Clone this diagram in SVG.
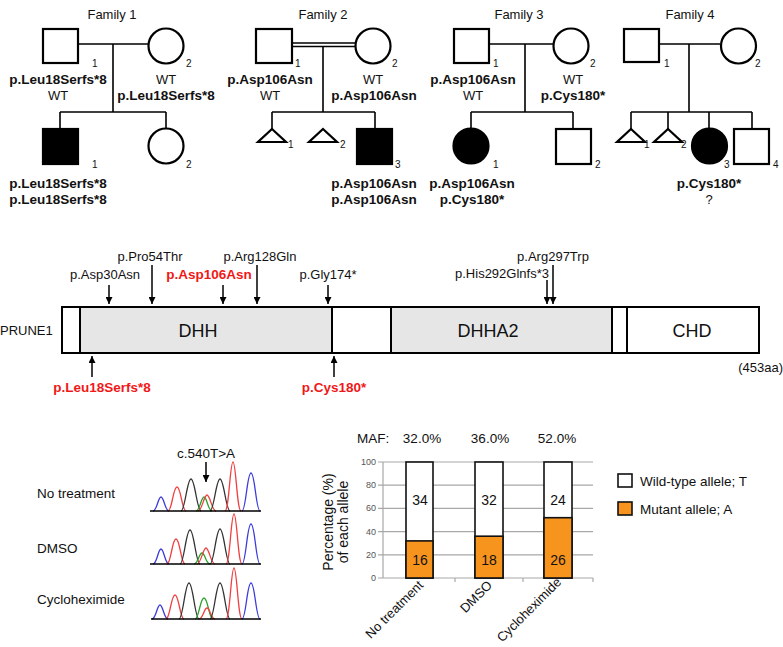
<svg xmlns="http://www.w3.org/2000/svg" width="783" height="647" viewBox="0 0 783 647">
<style>
text{font-family:"Liberation Sans",Arial,sans-serif;fill:#111}
.t{font-size:13px;text-anchor:middle}
.b{font-size:13.5px;font-weight:bold;text-anchor:middle}
.n{font-size:10px}
.sh{fill:#fff;stroke:#000;stroke-width:2.2}
.af{fill:#000;stroke:#000;stroke-width:2.2}
.ln{fill:none;stroke:#000;stroke-width:1.6}
.ar{fill:none;stroke:#000;stroke-width:1.5}
.red{fill:#f01818}
.dom{fill:#e6e6e6;stroke:#000;stroke-width:2}
.wh{fill:#fff;stroke:#000;stroke-width:2}
.lab{font-size:13px;text-anchor:middle}
.pk{fill:none;stroke-width:1.3}
.bl{stroke:#3b3bdc}.rd{stroke:#f04040}.bk{stroke:#333}.gr{stroke:#2aa02a}
.grid{stroke:#a8a8a8;stroke-width:1.2}
.tk{font-size:9px;fill:#555;text-anchor:end}
.bar{stroke:#111;stroke-width:1.6}
.o{fill:#f7941e}
.num{font-size:14px;text-anchor:middle}
.xl{font-size:13px;text-anchor:end}
</style>
<defs>
<marker id="ah" viewBox="0 0 10 10" refX="10" refY="5" markerUnits="userSpaceOnUse" markerWidth="7" markerHeight="7" orient="auto"><path d="M0,0 L10,5 L0,10 z" fill="#000"/></marker>
</defs>

<!-- Family 1 -->
<g id="family1">
<text class="t" x="112" y="19">Family 1</text>
<path class="ln" d="M78,44 H148 M113,44 V112 M60,112 H166 M60,112 V128 M166,112 V128"/>
<rect class="sh" x="43" y="29" width="35" height="34"/>
<circle class="sh" cx="166" cy="46" r="17.5"/>
<rect class="af" x="43" y="129" width="35" height="35"/>
<circle class="sh" cx="166" cy="146" r="17.5"/>
<text class="n" x="92" y="67">1</text><text class="n" x="186" y="67">2</text>
<text class="n" x="92" y="168">1</text><text class="n" x="186" y="168">2</text>
<text class="b" x="58" y="84">p.Leu18Serfs*8</text><text class="t" x="58" y="100">WT</text>
<text class="t" x="166" y="84">WT</text><text class="b" x="166" y="100">p.Leu18Serfs*8</text>
<text class="b" x="58" y="188">p.Leu18Serfs*8</text><text class="b" x="58" y="204">p.Leu18Serfs*8</text>
</g>

<!-- Family 2 -->
<g id="family2">
<text class="t" x="323" y="19">Family 2</text>
<path class="ln" d="M292,43 H355 M292,46.5 H355 M323,46.5 V112 M272,112 H375 M272,112 V129 M375,112 V128"/>
<rect class="sh" x="256" y="29" width="36" height="34"/>
<circle class="sh" cx="373" cy="46" r="17.5"/>
<path class="sh" d="M272,129 L286,142 L258,142 Z"/>
<path class="sh" d="M323,129 L337,142 L309,142 Z"/>
<rect class="af" x="357" y="129" width="35" height="35"/>
<text class="n" x="295" y="67">1</text><text class="n" x="392" y="67">2</text>
<text class="n" x="288" y="148">1</text><text class="n" x="340" y="148">2</text><text class="n" x="395" y="168">3</text>
<text class="b" x="270" y="84">p.Asp106Asn</text><text class="t" x="270" y="100">WT</text>
<text class="t" x="373" y="84">WT</text><text class="b" x="374" y="100">p.Asp106Asn</text>
<text class="b" x="374" y="188">p.Asp106Asn</text><text class="b" x="374" y="204">p.Asp106Asn</text>
</g>

<!-- Family 3 -->
<g id="family3">
<text class="t" x="519" y="19">Family 3</text>
<path class="ln" d="M489,44 H554 M525,44 V112 M471,112 H573 M471,112 V128 M573,112 V128"/>
<rect class="sh" x="454" y="29" width="35" height="34"/>
<circle class="sh" cx="571" cy="46" r="17.5"/>
<circle class="af" cx="471" cy="146" r="17.5"/>
<rect class="sh" x="556" y="129" width="35" height="35"/>
<text class="n" x="493" y="67">1</text><text class="n" x="590" y="67">2</text>
<text class="n" x="493" y="168">1</text><text class="n" x="595" y="168">2</text>
<text class="b" x="473" y="84">p.Asp106Asn</text><text class="t" x="473" y="100">WT</text>
<text class="t" x="573" y="84">WT</text><text class="b" x="573" y="100">p.Cys180*</text>
<text class="b" x="472" y="188">p.Asp106Asn</text><text class="b" x="472" y="204">p.Cys180*</text>
</g>

<!-- Family 4 -->
<g id="family4">
<text class="t" x="690" y="19">Family 4</text>
<path class="ln" d="M659,44 H720 M689,44 V112 M631,112 H752 M631,112 V129 M668,112 V129 M709,112 V128 M752,112 V128"/>
<rect class="sh" x="624" y="29" width="35" height="33"/>
<circle class="sh" cx="738.5" cy="46" r="17.5"/>
<path class="sh" d="M631,129 L645,142 L617,142 Z"/>
<path class="sh" d="M668,129 L682,142 L654,142 Z"/>
<circle class="af" cx="709.5" cy="146" r="17.5"/>
<rect class="sh" x="734" y="129" width="35" height="35"/>
<text class="n" x="664" y="67">1</text><text class="n" x="755" y="67">2</text>
<text class="n" x="644" y="148">1</text><text class="n" x="681" y="148">2</text>
<text class="n" x="724" y="168">3</text><text class="n" x="773" y="168">4</text>
<text class="b" x="709" y="188">p.Cys180*</text><text class="t" x="709" y="204">?</text>
</g>

<!-- Protein -->
<g id="prune1">
<text x="0" y="335" style="font-size:13px">PRUNE1</text>
<rect class="wh" x="62" y="307" width="697" height="46"/>
<rect class="dom" x="80" y="307" width="252" height="46"/>
<rect class="dom" x="391" y="307" width="221" height="46"/>
<rect class="wh" x="627" y="307" width="132" height="46"/>
<text x="198" y="337" style="font-size:18px;text-anchor:middle">DHH</text>
<text x="488" y="337" style="font-size:18px;text-anchor:middle">DHHA2</text>
<text x="692" y="337" style="font-size:18px;text-anchor:middle">CHD</text>
<text x="783" y="372" style="font-size:13px;text-anchor:end">(453aa)</text>
</g>

<g id="connectors">
<path class="ar" marker-end="url(#ah)" d="M109,285 V304"/>
<path class="ar" marker-end="url(#ah)" d="M152,265 V304"/>
<path class="ar" marker-end="url(#ah)" d="M223,285 V304"/>
<path class="ar" marker-end="url(#ah)" d="M257,265 V304"/>
<path class="ar" marker-end="url(#ah)" d="M328,285 V304"/>
<path class="ar" marker-end="url(#ah)" d="M547,280 V304"/>
<path class="ar" marker-end="url(#ah)" d="M553,265 V304"/>
<path class="ar" marker-end="url(#ah)" d="M92,377 V356"/>
<path class="ar" marker-end="url(#ah)" d="M334,377 V356"/>
<path class="ar" marker-end="url(#ah)" d="M206,462 V482"/>
</g>

<g id="variant-labels">
<text class="lab" x="105" y="279">p.Asp30Asn</text>
<text class="lab" x="150" y="261">p.Pro54Thr</text>
<text class="b red" x="209" y="279">p.Asp106Asn</text>
<text class="lab" x="260" y="261">p.Arg128Gln</text>
<text class="lab" x="328" y="279">p.Gly174*</text>
<text class="lab" x="553" y="261">p.Arg297Trp</text>
<text class="lab" x="502" y="278">p.His292Glnfs*3</text>
<text class="b red" x="102" y="392">p.Leu18Serfs*8</text>
<text class="b red" x="334" y="392">p.Cys180*</text>
</g>

<!-- Chromatograms -->
<g id="chromatograms">
<text x="37" y="498" style="font-size:13.5px">No treatment</text>
<text x="37" y="553" style="font-size:13.5px">DMSO</text>
<text x="37" y="604" style="font-size:13.5px">Cycloheximide</text>
<text x="206" y="458" style="font-size:13.5px;text-anchor:middle">c.540T&gt;A</text>
<path class="pk bl" d="M153,511 C157,511 158,497 161,497 C164,497 165,511 169,511"/>
<path class="pk rd" d="M168,511 C172,511 173,487 177,487 C181,487 182,511 186,511"/>
<path class="pk bk" d="M181,511 C185,511 187,479 191,479 C195,479 197,511 201,511"/>
<path class="pk gr" d="M196,511 C200,511 201,497 204,497 C207,497 208,511 212,511"/>
<path class="pk rd" d="M198,511 C202,511 204,495 207,495 C210,495 212,511 216,511"/>
<path class="pk bk" d="M210,511 C214,511 216,479 220,479 C224,479 226,511 230,511"/>
<path class="pk rd" d="M225,511 C229,511 230,462 233,462 C236,462 237,511 241,511"/>
<path class="pk bl" d="M242,511 C246,511 247,473 251,473 C255,473 256,511 260,511"/>
<path class="pk bl" d="M153,564 C157,564 158,549 161,549 C164,549 165,564 169,564"/>
<path class="pk rd" d="M167,564 C171,564 172,539 176,539 C180,539 181,564 185,564"/>
<path class="pk bk" d="M180,564 C184,564 186,530 190,530 C194,530 196,564 200,564"/>
<path class="pk gr" d="M194,564 C198,564 199,553 202,553 C205,553 206,564 210,564"/>
<path class="pk rd" d="M197,564 C201,564 203,548 206,548 C209,548 211,564 215,564"/>
<path class="pk bk" d="M210,564 C214,564 216,529 220,529 C224,529 226,564 230,564"/>
<path class="pk rd" d="M226,564 C230,564 231,514 234,514 C237,514 238,564 242,564"/>
<path class="pk bl" d="M242,564 C246,564 247,524 251,524 C255,524 256,564 260,564"/>
<path class="pk bl" d="M152,619 C156,619 157,605 160,605 C163,605 164,619 168,619"/>
<path class="pk rd" d="M166,619 C170,619 171,595 175,595 C179,595 180,619 184,619"/>
<path class="pk bk" d="M179,619 C183,619 185,583 189,583 C193,583 195,619 199,619"/>
<path class="pk gr" d="M195,619 C199,619 200,598 204,598 C208,598 209,619 213,619"/>
<path class="pk rd" d="M199,619 C203,619 204,608 207,608 C210,608 211,619 215,619"/>
<path class="pk bk" d="M210,619 C214,619 216,583 220,583 C224,583 226,619 230,619"/>
<path class="pk rd" d="M226,619 C230,619 231,568 234,568 C237,568 238,619 242,619"/>
<path class="pk bl" d="M242,619 C246,619 247,583 251,583 C255,583 256,619 260,619"/>
<path d="M150,511 H261 M150,564 H261 M151,619 H261" stroke="#000" stroke-width="1.6"/>
</g>

<!-- Bar chart -->
<g id="barchart">
<text x="357" y="443" style="font-size:13.5px">MAF:</text>
<text x="422" y="443" style="font-size:13.5px;text-anchor:middle">32.0%</text>
<text x="490" y="443" style="font-size:13.5px;text-anchor:middle">36.0%</text>
<text x="557" y="443" style="font-size:13.5px;text-anchor:middle">52.0%</text>
<path class="grid" d="M383,462 H593 M383,485.2 H593 M383,508.4 H593 M383,531.6 H593 M383,554.8 H593 M378,578 H593 M383,462 V578 M378,462 H383 M378,485.2 H383 M378,508.4 H383 M378,531.6 H383 M378,554.8 H383 M455,578 V582 M523,578 V582 M593,578 V582"/>
<text class="tk" x="376" y="465">100</text>
<text class="tk" x="376" y="488">80</text>
<text class="tk" x="376" y="511">60</text>
<text class="tk" x="376" y="535">40</text>
<text class="tk" x="376" y="558">20</text>
<text class="tk" x="376" y="581">0</text>
<text transform="translate(333,522) rotate(-90)" style="font-size:14px;text-anchor:middle">Percentage (%)</text>
<text transform="translate(348,522) rotate(-90)" style="font-size:14px;text-anchor:middle">of each allele</text>
<rect class="bar" x="406" y="462" width="27" height="116" fill="#fff"/>
<rect class="bar o" x="406" y="540.9" width="27" height="37.1"/>
<rect class="bar" x="475" y="462" width="28" height="116" fill="#fff"/>
<rect class="bar o" x="475" y="536.2" width="28" height="41.8"/>
<rect class="bar" x="544" y="462" width="28" height="116" fill="#fff"/>
<rect class="bar o" x="544" y="517.7" width="28" height="60.3"/>
<text class="num" x="420" y="505">34</text><text class="num" x="420" y="565">16</text>
<text class="num" x="489" y="505">32</text><text class="num" x="489" y="565">18</text>
<text class="num" x="558" y="505">24</text><text class="num" x="558" y="565">26</text>
<text class="xl" transform="translate(424,586) rotate(-45)">No treatment</text>
<text class="xl" transform="translate(493,586) rotate(-45)">DMSO</text>
<text class="xl" transform="translate(562,583) rotate(-45)">Cycloheximide</text>
</g>

<g id="legend">
<rect x="618" y="474" width="14" height="13" fill="#fff" stroke="#111" stroke-width="1.6"/>
<rect x="618" y="502" width="14" height="13" fill="#f7941e" stroke="#111" stroke-width="1.6"/>
<text x="640" y="486" style="font-size:13.5px">Wild-type allele; T</text>
<text x="640" y="514" style="font-size:13.5px">Mutant allele; A</text>
</g>
</svg>
